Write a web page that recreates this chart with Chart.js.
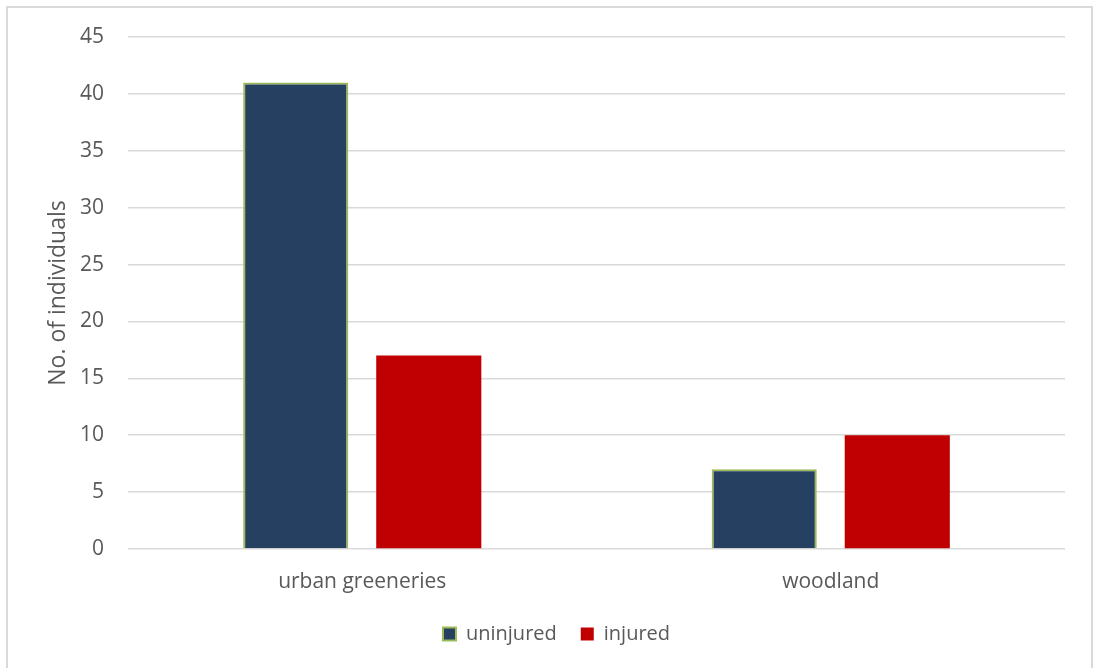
<!DOCTYPE html>
<html>
<head>
<meta charset="utf-8">
<script src="https://cdn.jsdelivr.net/npm/chart.js@4.4.0/dist/chart.umd.min.js"></script>
<style>
  html, body { margin: 0; padding: 0; background: #fff; }
  .frame {
    position: absolute; left: 6px; top: 6px; width: 1087px; height: 670px;
    border: 2px solid #d9d9d9; box-sizing: border-box;
  }
  .wrap { position: absolute; left: 0; top: 0; width: 1096px; height: 668px; }
</style>
</head>
<body>
<div class="frame"></div>
<div class="wrap"><canvas id="chart" width="1096" height="668"></canvas></div>
<script>
  const habitats = ["urban greeneries", "woodland"];
  const uninjured = [41, 7];
  const injured = [17, 10];
  const yTicks = [0, 5, 10, 15, 20, 25, 30, 35, 40, 45];

  const grey = "#595959";
  Chart.defaults.font.family = "'Open Sans', sans-serif";
  Chart.defaults.color = grey;

  // keep the legend centred under the plot area rather than the whole canvas
  const legendShift = {
    id: "legendShift",
    afterLayout(chart) {
      const lg = chart.legend;
      lg.left += 24;
      lg.right += 24;
    },
  };

  new Chart(document.getElementById("chart"), {
    type: "bar",
    data: {
      labels: habitats,
      datasets: [
        {
          label: "uninjured",
          data: uninjured,
          backgroundColor: "#254061",
          borderColor: "#9bbb59",
          borderWidth: 2,
        },
        {
          label: "injured",
          data: injured,
          backgroundColor: "#c00000",
          borderColor: "#c00000",
          borderWidth: 0,
        },
      ],
    },
    options: {
      responsive: false,
      animation: false,
      categoryPercentage: 0.568,
      barPercentage: 0.79,
      layout: { padding: { top: 37, right: 31, bottom: 14, left: 0 } },
      plugins: {
        tooltip: { enabled: false },
        legend: {
          position: "bottom",
          labels: {
            boxWidth: 13,
            boxHeight: 13,
            padding: 24,
            font: { size: 20 },
            color: grey,
          },
        },
      },
      scales: {
        x: {
          grid: { display: false },
          border: { display: false },
          ticks: { font: { size: 21 }, padding: 12 },
          afterFit: (scale) => {
            scale.height = 51;
          },
        },
        y: {
          min: 0,
          max: 45,
          afterBuildTicks: (scale) => {
            scale.ticks = yTicks.map((v) => ({ value: v }));
          },
          grid: { color: "#d9d9d9", lineWidth: 1.5, drawTicks: false },
          border: { display: false },
          ticks: { font: { size: 21 }, padding: 24 },
          title: {
            display: true,
            text: "No. of individuals",
            font: { size: 23 },
            color: grey,
            padding: { top: 45, bottom: 0 },
          },
          afterFit: (scale) => {
            scale.width = 128;
          },
        },
      },
    },
    plugins: [legendShift],
  });
</script>
</body>
</html>
